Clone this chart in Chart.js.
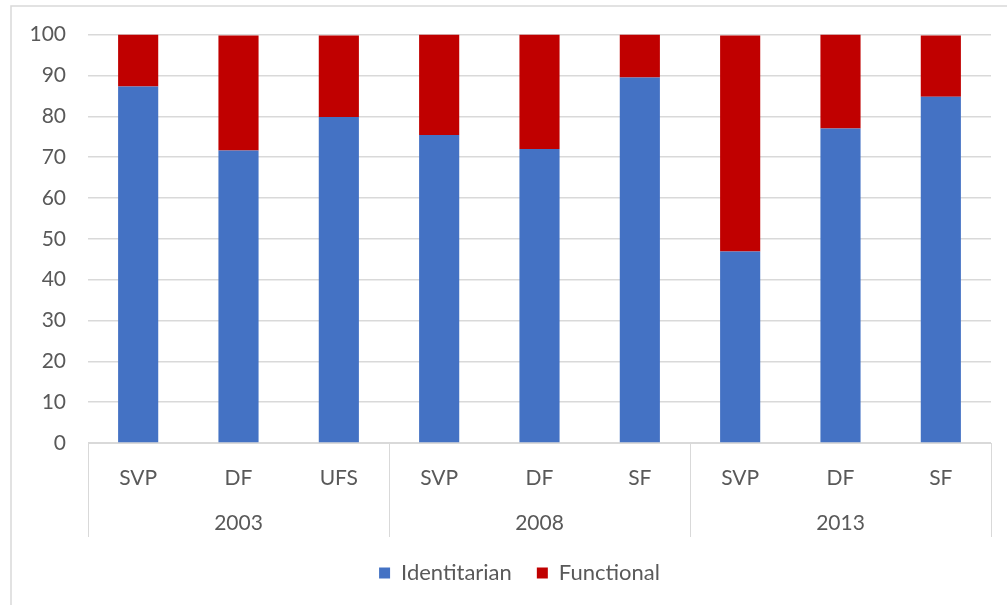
<!DOCTYPE html>
<html>
<head>
<meta charset="utf-8">
<script src="https://cdn.jsdelivr.net/npm/chart.js@4"></script>
<style>
  body { margin: 0; background: #fff; }
  #wrap { width: 1007px; height: 605px; position: relative; }
</style>
</head>
<body>
<div id="wrap"><canvas id="chart" width="1007" height="605"></canvas></div>
<script>
let parties = ['SVP', 'DF', 'UFS', 'SVP', 'DF', 'SF', 'SVP', 'DF', 'SF'];
let years = ['2003', '2008', '2013'];
let identitarian = [87.3, 71.6, 79.8, 75.4, 72.0, 89.5, 46.9, 77.0, 84.8];
let functional = [12.7, 28.15, 19.95, 24.6, 28.0, 10.5, 52.85, 23.0, 14.95];

const font = "Lato, 'Open Sans', sans-serif";
const grey = '#595959';

// outer frame + group separators under the axis
const groupLines = {
  id: 'groupLines',
  beforeDraw(c) {
    let ctx = c.ctx;
    ctx.save();
    ctx.strokeStyle = '#d9d9d9';
    ctx.lineWidth = 1.5;
    ctx.strokeRect(11, 6, 1100, 700);
    ctx.restore();
  },
  afterLayout(c) {
    // legend sits a bit right of the canvas centre in the original
    if (c.legend) c.legend.left = 48;
  },
  afterDraw(c) {
    let ctx = c.ctx, x = c.scales.x;
    ctx.save();
    ctx.strokeStyle = '#d9d9d9';
    ctx.lineWidth = 1;
    for (let i = 0; i <= parties.length; i += 3) {
      let px = Math.round(x.getPixelForValue(i - 0.5)) + 0.5;
      ctx.beginPath();
      ctx.moveTo(px, c.chartArea.bottom);
      ctx.lineTo(px, c.chartArea.bottom + 94);
      ctx.stroke();
    }
    ctx.restore();
  }
};

chart = new Chart(document.getElementById('chart').getContext('2d'), {
  type: 'bar',
  data: {
    labels: parties,
    datasets: [
      { label: 'Identitarian', data: identitarian, backgroundColor: '#4472c4', barPercentage: 0.4, categoryPercentage: 1 },
      { label: 'Functional', data: functional, backgroundColor: '#c00000', barPercentage: 0.4, categoryPercentage: 1 }
    ]
  },
  options: {
    responsive: false,
    animation: false,
    layout: { padding: { top: 30, right: 16, left: 0, bottom: 11 } },
    plugins: {
      tooltip: { enabled: false },
      legend: {
        position: 'bottom',
        labels: { font: { family: font, size: 22 }, color: grey, boxWidth: 11, boxHeight: 11, padding: 25 }
      }
    },
    scales: {
      x: {
        stacked: true,
        grid: { display: false },
        border: { color: '#d9d9d9', width: 1 },
        ticks: { font: { family: font, size: 21 }, color: grey, padding: 15 },
        afterFit: s => { s.height = 60; }
      },
      x2: {
        type: 'category',
        labels: years,
        offset: true,
        position: 'bottom',
        grid: { display: false },
        border: { display: false },
        ticks: { font: { family: font, size: 21 }, color: grey, padding: 0 },
        afterFit: s => { s.height = 34; }
      },
      y: {
        stacked: true,
        min: 0, max: 100,
        ticks: { stepSize: 10, font: { family: font, size: 21 }, color: grey, padding: 22 },
        grid: { color: '#d9d9d9', drawTicks: false, lineWidth: 1.5 },
        border: { display: false },
        afterFit: s => { s.width = 88; }
      }
    }
  },
  plugins: [groupLines]
});
</script>
</body>
</html>
